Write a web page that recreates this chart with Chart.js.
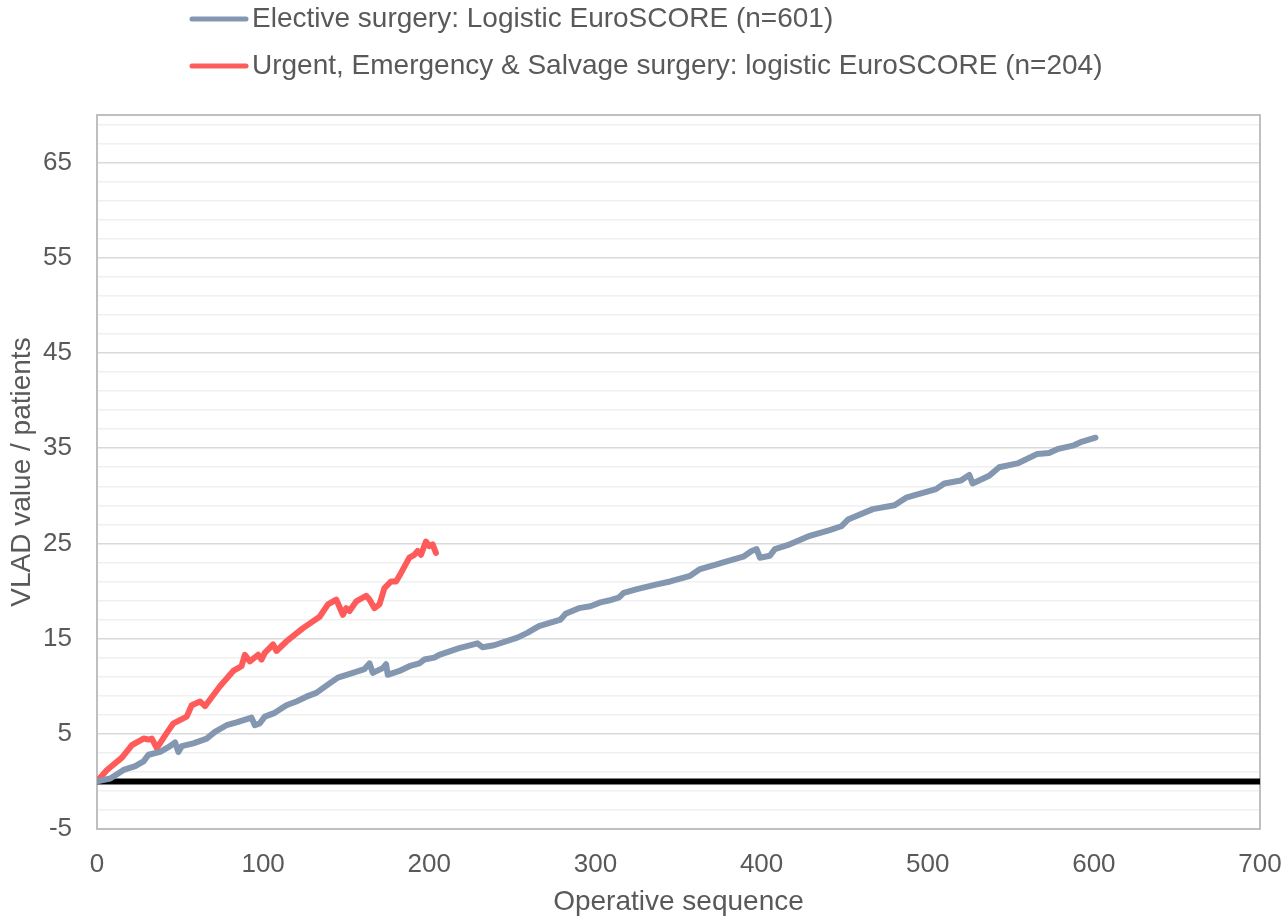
<!DOCTYPE html>
<html>
<head>
<meta charset="utf-8">
<title>VLAD</title>
<script src="https://cdn.jsdelivr.net/npm/chart.js@4.4.1/dist/chart.umd.min.js"></script>
<style>
  html, body { margin: 0; padding: 0; background: #fff; }
  canvas { display: block; }
</style>
</head>
<body>
<canvas id="vlad" width="1286" height="923"></canvas>
<script>
// values
const electiveSeq = [0, 8, 16, 23, 28, 31, 38, 44, 47, 49, 51, 58, 66, 71, 78, 84, 93, 95, 98, 101,
    107, 114, 120, 126, 132, 140, 145, 154, 161, 164, 166, 172, 174, 175, 182, 188, 194, 197, 203, 206,
    218, 229, 232, 239, 253, 259, 266, 279, 282, 290, 297, 303, 308, 314, 317, 325, 337, 345, 357, 363,
    373, 379, 389, 394, 397, 399, 405, 408, 417, 429, 441, 448, 452, 467, 480, 487, 505, 510, 520, 525,
    527, 537, 543, 554, 566, 573, 578, 588, 593, 601];
const electiveVlad = [0, 0.3, 1.2, 1.6, 2.1, 2.8, 3.1, 3.7, 4.1, 3.1, 3.7, 4.0, 4.5, 5.2, 5.9, 6.2, 6.7, 5.9, 6.1, 6.8,
    7.2, 8.0, 8.4, 8.9, 9.3, 10.3, 10.9, 11.4, 11.8, 12.4, 11.4, 11.9, 12.3, 11.2, 11.6, 12.1, 12.4, 12.8, 13.0, 13.3,
    14.0, 14.5, 14.1, 14.3, 15.1, 15.6, 16.3, 17.0, 17.6, 18.2, 18.4, 18.8, 19.0, 19.3, 19.8, 20.2, 20.7, 21.0, 21.6, 22.3,
    22.8, 23.1, 23.6, 24.2, 24.4, 23.5, 23.7, 24.4, 24.9, 25.8, 26.4, 26.8, 27.5, 28.6, 29.0, 29.8, 30.7, 31.3, 31.6, 32.2,
    31.3, 32.1, 33.0, 33.4, 34.4, 34.5, 34.9, 35.3, 35.7, 36.1];

const urgentSeq = [0, 6, 15, 21, 28, 31, 33, 36, 42, 46, 54, 57, 62, 65, 74, 82, 87, 89, 92, 97,
    99, 101, 106, 108, 114, 124, 134, 139, 144, 148, 150, 152, 156, 162, 164, 167, 170, 173, 177, 180,
    183, 188, 191, 193, 195, 198, 200, 202, 204];
const urgentVlad = [0, 1.2, 2.5, 3.8, 4.5, 4.4, 4.5, 3.5, 5.1, 6.1, 6.8, 8.0, 8.4, 7.9, 10.0, 11.6, 12.1, 13.3, 12.6, 13.3,
    12.8, 13.5, 14.4, 13.7, 14.7, 16.1, 17.3, 18.6, 19.1, 17.5, 18.2, 17.9, 18.9, 19.5, 19.1, 18.2, 18.6, 20.3, 21.0, 21.0,
    21.9, 23.5, 23.8, 24.2, 23.8, 25.2, 24.7, 24.9, 24.0];

const zeroSeq = [0, 700];
const zeroVlad = [0, 0];

const seriesNames = ['Elective surgery: Logistic EuroSCORE (n=601)',
    'Urgent, Emergency & Salvage surgery: logistic EuroSCORE (n=204)'];
const seriesColors = ['#8497b0', '#ff5b5b'];

const xTicks = [0, 100, 200, 300, 400, 500, 600, 700];
const yMajorTicks = [-5, 5, 15, 25, 35, 45, 55, 65];
const yMinorStep = 2;

const FONT = '"Liberation Sans", Arial, sans-serif';
const TEXT = '#595959';

function zip(xs, ys) {
    return xs.map((x, i) => ({ x: x, y: ys[i] }));
}

// legend drawn by hand so both rows line up on the left like the original
const legendPlugin = {
    id: 'sideLegend',
    afterDraw(chart) {
        const ctx = chart.ctx;
        const rows = [19, 66];
        ctx.save();
        ctx.font = '28px ' + FONT;
        ctx.textBaseline = 'middle';
        ctx.fillStyle = TEXT;
        rows.forEach((y, i) => {
            ctx.strokeStyle = seriesColors[i];
            ctx.lineWidth = 5;
            ctx.lineCap = 'round';
            ctx.beginPath();
            ctx.moveTo(192, y);
            ctx.lineTo(246, y);
            ctx.stroke();
            ctx.fillText(seriesNames[i], 252, y);
        });
        ctx.restore();
    }
};

// grey box round the plot area
const framePlugin = {
    id: 'frame',
    beforeDatasetsDraw(chart) {
        const a = chart.chartArea;
        const ctx = chart.ctx;
        ctx.save();
        ctx.strokeStyle = '#bfbfbf';
        ctx.lineWidth = 2;
        ctx.strokeRect(a.left, a.top, a.right - a.left, a.bottom - a.top);
        ctx.restore();
    }
};

const ctx = document.getElementById('vlad').getContext('2d');
new Chart(ctx, {
    type: 'line',
    data: {
        datasets: [{
            label: seriesNames[0],
            data: zip(electiveSeq, electiveVlad),
            borderColor: seriesColors[0],
            borderWidth: 6
        }, {
            label: seriesNames[1],
            data: zip(urgentSeq, urgentVlad),
            borderColor: seriesColors[1],
            borderWidth: 6
        }, {
            label: 'zero',
            data: zip(zeroSeq, zeroVlad),
            borderColor: '#000000',
            borderWidth: 6,
            borderCapStyle: 'butt'
        }]
    },
    options: {
        responsive: false,
        animation: false,
        devicePixelRatio: 1,
        layout: { padding: { top: 115, right: 26, left: 0, bottom: 0 } },
        elements: {
            point: { radius: 0, hoverRadius: 0 },
            line: { tension: 0, borderJoinStyle: 'round', borderCapStyle: 'round', fill: false }
        },
        plugins: {
            legend: { display: false },
            tooltip: { enabled: false }
        },
        scales: {
            x: {
                type: 'linear',
                min: 0,
                max: 700,
                afterFit: s => { s.height = 94; s.paddingLeft = 0; s.paddingRight = 0; },
                afterBuildTicks: s => { s.ticks = xTicks.map(v => ({ value: v })); },
                grid: { display: false, drawTicks: false },
                border: { display: false },
                ticks: { color: TEXT, font: { size: 26, family: FONT }, padding: 20, maxRotation: 0 },
                title: {
                    display: true,
                    text: 'Operative sequence',
                    color: TEXT,
                    font: { size: 28, family: FONT },
                    padding: { top: 0, bottom: 4 }
                }
            },
            y: {
                type: 'linear',
                min: -5,
                max: 70,
                afterFit: s => { s.width = 97; s.paddingTop = 0; s.paddingBottom = 0; },
                afterBuildTicks: s => {
                    const t = [];
                    for (let v = yMajorTicks[0]; v < 70; v += yMinorStep) t.push({ value: v });
                    s.ticks = t;
                },
                grid: {
                    drawTicks: false,
                    lineWidth: 1.5,
                    color: c => yMajorTicks.includes(c.tick.value) ? '#d9d9d9' : '#f0f0f0'
                },
                border: { display: false },
                ticks: {
                    color: TEXT,
                    font: { size: 26, family: FONT },
                    padding: 25,
                    autoSkip: false,
                    callback: v => yMajorTicks.includes(v) ? v : ''
                },
                title: {
                    display: true,
                    text: 'VLAD value / patients',
                    color: TEXT,
                    font: { size: 28, family: FONT },
                    padding: { top: 5, bottom: 0 }
                }
            }
        }
    },
    plugins: [framePlugin, legendPlugin]
});
</script>
</body>
</html>
